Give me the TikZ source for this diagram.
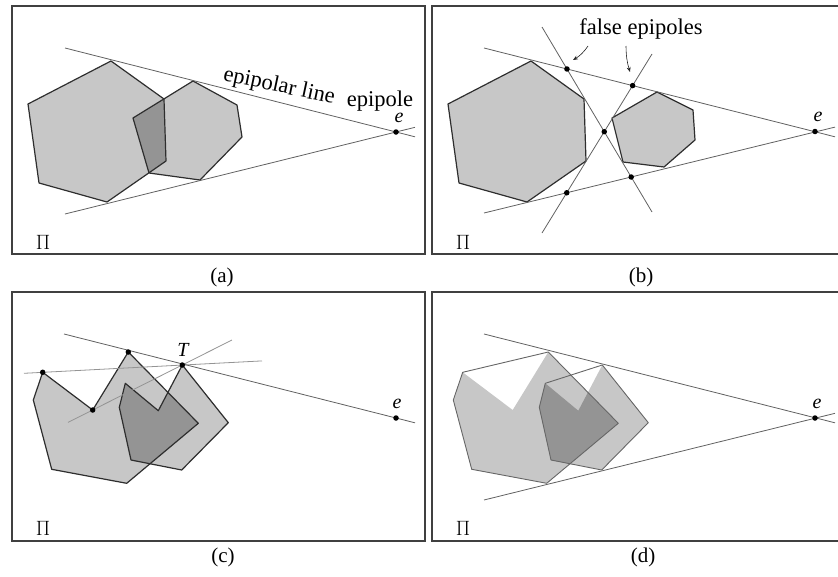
\documentclass[tikz,border=0pt]{standalone}
\usepackage{fontspec}
\setmainfont{Liberation Serif}
\usetikzlibrary{arrows.meta}
\begin{document}
\begin{tikzpicture}[x=1pt,y=-1pt,
  frame/.style={draw=black!75,line width=1.5pt},
  light/.style={fill=black!22},
  darkfill/.style={fill=black!42},
  outl/.style={draw=black!82,line width=1.2pt,line join=round},
  hullline/.style={draw=black!60,line width=0.9pt,line join=round},
  epiline/.style={draw=black!62,line width=0.8pt},
  auxline/.style={draw=black!42,line width=0.8pt},
  dot/.style={circle,fill=black,inner sep=0pt,minimum size=5.5pt},
  lbl/.style={font=\fontsize{22.5}{26}\selectfont,inner sep=0pt},
  pilbl/.style={font=\fontsize{20}{24}\selectfont,inner sep=0pt},
  caplbl/.style={font=\fontsize{21}{25}\selectfont,inner sep=0pt},
  itlbl/.style={font=\fontsize{20}{24}\selectfont\itshape,inner sep=0pt},
  pointer/.style={draw=black!85,line width=0.6pt,-{Stealth[length=5pt,width=4pt]}}
]
\useasboundingbox (0,0) rectangle (838,576);

% ---------------- (a) ----------------
\draw[frame] (12,6) rectangle (425,254);
\def\hexbigA{(111,61)--(164,99)--(166,161)--(107,202)--(39,183)--(28,104)--cycle}
\def\hexsmallA{(193,81)--(237,105)--(242,137)--(200,180)--(149,173)--(133,118)--cycle}
\fill[light] \hexbigA;
\fill[light] \hexsmallA;
\begin{scope}\clip \hexbigA; \fill[darkfill] \hexsmallA; \end{scope}
\draw[outl] \hexbigA;
\draw[outl] \hexsmallA;
\coordinate (ua1) at (65,48);
\coordinate (ua2) at (415,136.8);
\coordinate (la1) at (65,214);
\coordinate (la2) at (415,127.3);
\draw[epiline] (ua1) -- (ua2);
\draw[epiline] (la1) -- (la2);
\node[dot] (ea) at (396,132) {};
\node[itlbl] (ela) at (399,118) {e};
\node[lbl,rotate=-12,anchor=base] (epla) at (278,92) {epipolar line};
\node[lbl,anchor=base] (epoa) at (380,106) {epipole};
\node[pilbl] (pia) at (43,242) {$\Pi$};
\node[caplbl] (capa) at (222,277) {(a)};

% ---------------- (b) ----------------
\begin{scope}[shift={(420,0)}]
\draw[frame] (12,6) -- (419,6) -- (419,254) -- (12,254) -- cycle;
\def\hexbigB{(111,61)--(164,99)--(166,161)--(107,202)--(39,183)--(28,104)--cycle}
\def\hexsmallB{(237,92)--(273,110)--(275,140)--(244,167)--(203,162)--(192,118)--cycle}
\fill[light] \hexbigB;
\fill[light] \hexsmallB;
\draw[outl] \hexbigB;
\draw[outl] \hexsmallB;
\coordinate (ub1) at (64,48);
\coordinate (ub2) at (415,136.8);
\coordinate (lb1) at (64,213);
\coordinate (lb2) at (415,127.1);
\coordinate (xb1) at (122,27);
\coordinate (xb2) at (232,212);
\coordinate (yb1) at (232,54);
\coordinate (yb2) at (122,233);
\draw[epiline] (ub1) -- (ub2);
\draw[epiline] (lb1) -- (lb2);
\draw[epiline] (xb1) -- (xb2);
\draw[epiline] (yb1) -- (yb2);
\node[dot] (fb1) at (intersection of ub1--ub2 and xb1--xb2) {};
\node[dot] (fb2) at (intersection of ub1--ub2 and yb1--yb2) {};
\node[dot] (fb3) at (intersection of xb1--xb2 and yb1--yb2) {};
\node[dot] (fb4) at (intersection of lb1--lb2 and xb1--xb2) {};
\node[dot] (fb5) at (intersection of lb1--lb2 and yb1--yb2) {};
\node[dot] (eb) at (395,131.5) {};
\node[itlbl] (elb) at (398,117) {e};
\node[lbl,anchor=base] (feb) at (221,34) {false epipoles};
\coordinate (ab1) at (168,46);
\coordinate (ab2) at (153,60);
\coordinate (ac1) at (206,46);
\coordinate (ac2) at (210,72);
\draw[pointer] (ab1) to[bend left=12] (ab2);
\draw[pointer] (ac1) to[bend right=8] (ac2);
\node[pilbl] (pib) at (43,242) {$\Pi$};
\node[caplbl] (capb) at (221,277) {(b)};
\end{scope}

% ---------------- (c) ----------------
\draw[frame] (12,292) rectangle (425,541);
\def\crownC{(42.7,372.3)--(92.7,410)--(128.3,352)--(198.3,423.3)--(126.7,483.3)--(51.7,469.3)--(33.3,400)--cycle}
\def\crownCs{(125.3,383.3)--(158.3,410.7)--(182.3,365)--(228.3,422.7)--(181.7,470)--(131,460)--(119.3,407.3)--cycle}
\fill[light] \crownC;
\fill[light] \crownCs;
\begin{scope}\clip \crownC; \fill[darkfill] \crownCs; \end{scope}
\draw[outl] \crownC;
\draw[outl] \crownCs;
\coordinate (uc1) at (64,334);
\coordinate (uc2) at (415,422.8);
\coordinate (gc1) at (24,373.3);
\coordinate (gc2) at (262,360.9);
\coordinate (hc1) at (68,422.4);
\coordinate (hc2) at (232,340);
\draw[auxline] (gc1) -- (gc2);
\draw[auxline] (hc1) -- (hc2);
\draw[epiline] (uc1) -- (uc2);
\node[dot] (pc1) at (42.7,372.3) {};
\node[dot] (pc2) at (92.7,410) {};
\node[dot] (pc3) at (128.3,352) {};
\node[dot] (tc) at (182.3,365) {};
\node[dot] (ec) at (396,418) {};
\node[itlbl] (tlc) at (183,350) {T};
\node[itlbl] (elc) at (397,404) {e};
\node[pilbl] (pic) at (43,528) {$\Pi$};
\node[caplbl] (capc) at (223,557) {(c)};

% ---------------- (d) ----------------
\begin{scope}[shift={(420,0)}]
\draw[frame] (12,292) -- (419,292) -- (419,541) -- (12,541) -- cycle;
\def\crownD{(42.7,372.3)--(92.7,410)--(128.3,352)--(198.3,423.3)--(126.7,483.3)--(51.7,469.3)--(33.3,400)--cycle}
\def\crownDs{(125.3,383.3)--(158.3,410.7)--(182.3,365)--(228.3,422.7)--(181.7,470)--(131,460)--(119.3,407.3)--cycle}
\def\hullD{(42.7,372.3)--(128.3,352)--(198.3,423.3)--(126.7,483.3)--(51.7,469.3)--(33.3,400)--cycle}
\def\hullDs{(125.3,383.3)--(182.3,365)--(228.3,422.7)--(181.7,470)--(131,460)--(119.3,407.3)--cycle}
\fill[light] \crownD;
\fill[light] \crownDs;
\begin{scope}\clip \crownD; \fill[darkfill] \crownDs; \end{scope}
\draw[hullline] \hullD;
\draw[hullline] \hullDs;
\coordinate (ud1) at (64,334);
\coordinate (ud2) at (415,422.8);
\coordinate (ld1) at (64,500);
\coordinate (ld2) at (415,413.3);
\draw[epiline] (ud1) -- (ud2);
\draw[epiline] (ld1) -- (ld2);
\node[dot] (ed) at (395,418) {};
\node[itlbl] (eld) at (397,404) {e};
\node[pilbl] (pid) at (43,528) {$\Pi$};
\node[caplbl] (capd) at (223,557) {(d)};
\end{scope}
\end{tikzpicture}
\end{document}
